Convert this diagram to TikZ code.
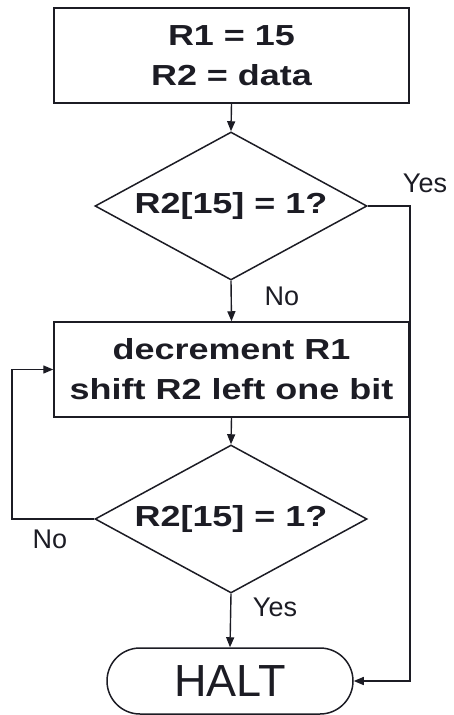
\documentclass[tikz,border=0pt]{standalone}
\usepackage{fontspec}
\setmainfont{Liberation Sans}
\newfontfamily\boldwide{Liberation Sans}[FakeStretch=1.24]
\usetikzlibrary{shapes.geometric,shapes.misc,arrows.meta}
\definecolor{ink}{RGB}{28,28,36}
\begin{document}
\begin{tikzpicture}[x=1pt,y=-1pt,
  every node/.style={text=ink},
  procbox/.style={draw=ink,line width=1.5pt,rectangle,minimum width=355pt,minimum height=95pt,inner sep=0pt,align=center,font=\boldwide\bfseries\fontsize{29}{40}\selectfont},
  decision/.style={draw=ink,line width=1.5pt,diamond,aspect=1.84,minimum width=272pt,minimum height=148pt,inner sep=0pt,font=\boldwide\bfseries\fontsize{29}{40}\selectfont},
  terminal/.style={draw=ink,line width=1.5pt,rounded rectangle,minimum width=246pt,minimum height=66pt,inner sep=0pt,font=\fontsize{45}{50}\selectfont},
  lbl/.style={font=\fontsize{27}{32}\selectfont,inner sep=0pt},
  conn/.style={draw=ink,line width=1.4pt,-{Triangle[length=10pt,width=8pt]}}]
\useasboundingbox (0,0) rectangle (453,715);
\node[procbox] (init) at (231.5,55.5) {R1 = 15\\R2 = data};
\node[decision] (d1) at (231,206) {R2[15] = 1?};
\node[procbox] (step2) at (231.5,369.5) {decrement R1\\shift R2 left one bit};
\node[decision] (d2) at (231,519) {R2[15] = 1?};
\node[terminal] (halt) at (230,681) {HALT};
\coordinate (yr) at (410,206);
\coordinate (yl) at (12,519);
\draw[conn] (init.south) -- (d1.north);
\draw[conn] (d1.south) -- (step2.north);
\draw[conn] (d1.east) -- (yr) |- (halt.east);
\draw[conn] (step2.south) -- (d2.north);
\draw[conn] (d2.west) -- (yl) |- (step2.west);
\draw[conn] (d2.south) -- (halt.north);
\node[lbl] (yes1) at (425,183) {Yes};
\node[lbl] (no1) at (282,296) {No};
\node[lbl] (no2) at (50,539) {No};
\node[lbl] (yes2) at (275,607) {Yes};
\end{tikzpicture}
\end{document}
